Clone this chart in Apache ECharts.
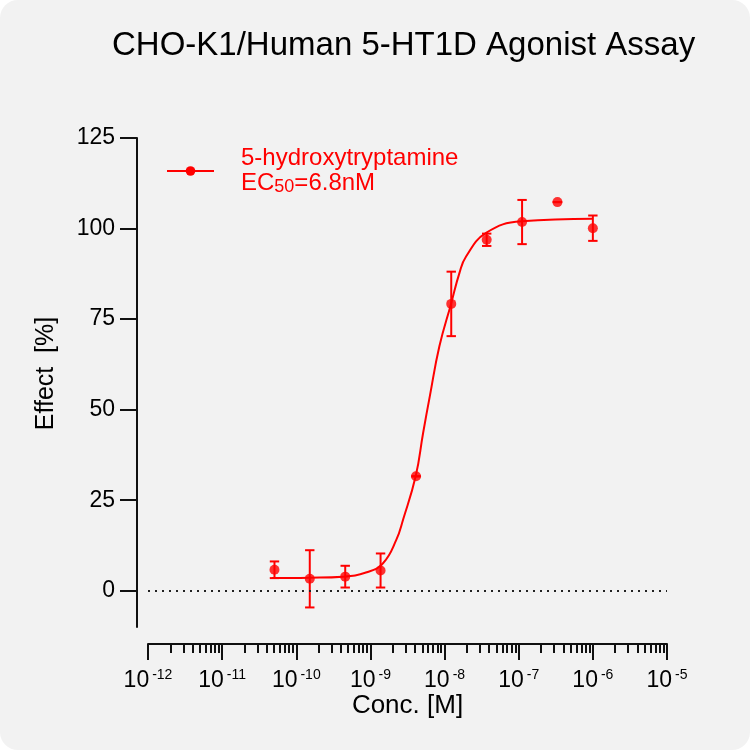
<!DOCTYPE html>
<html>
<head>
<meta charset="utf-8">
<script src="https://cdn.jsdelivr.net/npm/echarts@6/dist/echarts.min.js"></script>
<style>
    html, body { margin: 0; padding: 0; background: #ffffff; }
    #chart { width: 750px; height: 750px; background: #f2f2f2; border-radius: 18px; overflow: hidden; }
</style>
</head>
<body>
<div id="chart"></div>
<script>
    'use strict'

    /*-----data-----*/
    // concentrations in M (3-fold dilution series)
    var concM = [5.08e-11, 1.52e-10, 4.57e-10, 1.37e-9, 4.12e-9, 1.23e-8, 3.70e-8, 1.11e-7, 3.33e-7, 1.00e-6];
    var effectMean = [5.8, 3.3, 3.9, 5.6, 31.6, 79.2, 96.9, 101.8, 107.3, 100.1];
    var effectErr = [2.3, 7.9, 3.0, 4.7, 0, 8.9, 1.7, 6.1, 0, 3.5];

    // fitted curve (log10 conc, effect %)
    var curveLogX = [-10.33, -9.83, -9.37, -9.05, -8.83, -8.65, -8.56, -8.39, -8.29, -8.20, -8.07, -7.91, -7.80, -7.71, -7.44, -6.96, -6.00];
    var curveY = [3.5, 3.6, 3.9, 5.1, 7.6, 14.1, 19.6, 31.6, 43.5, 53.6, 67.5, 79.4, 87.7, 92.3, 98.8, 102.0, 102.7];

    var xDecades = [-12, -11, -10, -9, -8, -7, -6, -5];
    var yTicks = [0, 25, 50, 75, 100, 125];

    var seriesName = '5-hydroxytryptamine';
    var ec50Text = '6.8nM';

    /*-----build-----*/
    var pointData = concM.map(function (c, i) {
        return [Math.log10(c), effectMean[i]];
    });
    var errData = concM.map(function (c, i) {
        return [Math.log10(c), effectMean[i] - effectErr[i], effectMean[i] + effectErr[i]];
    });
    var curveData = curveLogX.map(function (x, i) {
        return [x, curveY[i]];
    });
    var minorTicks = [];
    for (var d = 0; d < xDecades.length - 1; d++) {
        for (var k = 2; k <= 9; k++) {
            minorTicks.push(xDecades[d] + Math.log10(k));
        }
    }

    var red = '#ff0000';
    var axisColor = '#111111';
    var fontFamily = '"Liberation Sans", Arial, sans-serif';

    var chart = echarts.init(document.getElementById('chart'));
    var option = {
        backgroundColor: 'transparent',
        textStyle: { fontFamily: fontFamily },
        title: {
            text: 'CHO-K1/Human 5-HT1D Agonist Assay',
            left: 107,
            top: 24,
            textStyle: { fontSize: 33, fontWeight: 'normal', color: '#000', fontFamily: fontFamily }
        },
        legend: {
            data: [seriesName],
            left: 166,
            top: 146,
            padding: 0,
            itemWidth: 47,
            itemHeight: 12,
            formatter: function () {
                return seriesName + '\nEC{sub|50}=' + ec50Text;
            },
            textStyle: {
                color: red,
                fontSize: 24,
                lineHeight: 25,
                padding: [0, 0, 0, 22],
                fontFamily: fontFamily,
                rich: {
                    sub: { fontSize: 18, color: red, verticalAlign: 'bottom', lineHeight: 12 }
                }
            }
        },
        grid: {
            left: 148,
            right: 83,
            top: 138,
            bottom: 123,
            containLabel: false
        },
        xAxis: [{
            type: 'value',
            min: -12,
            max: -5,
            interval: 1,
            offset: 17,
            name: 'Conc. [M]',
            nameLocation: 'middle',
            nameGap: 49,
            nameMoveOverlap: false,
            nameTextStyle: { fontSize: 26, color: '#000', fontFamily: fontFamily },
            axisLine: { onZero: false, lineStyle: { color: axisColor, width: 2 } },
            axisTick: { length: 16, lineStyle: { color: axisColor, width: 2 } },
            splitLine: { show: false },
            axisLabel: {
                margin: 24,
                color: '#000',
                formatter: function (v) {
                    return '{b|10}{s|' + v + '}';
                },
                rich: {
                    b: { fontSize: 23, color: '#000', lineHeight: 26, fontFamily: fontFamily },
                    s: { fontSize: 14, color: '#000', verticalAlign: 'top', lineHeight: 14, padding: [0, 0, 0, 3], fontFamily: fontFamily }
                }
            }
        }, {
            type: 'value',
            min: -12,
            max: -5,
            position: 'bottom',
            offset: 17,
            axisLine: { show: false, onZero: false },
            axisLabel: { show: false },
            splitLine: { show: false },
            axisTick: {
                show: true,
                length: 9,
                customValues: minorTicks,
                lineStyle: { color: axisColor, width: 2 }
            }
        }],
        yAxis: {
            type: 'value',
            min: -10,
            max: 125,
            offset: 11,
            name: 'Effect  [%]',
            nameLocation: 'middle',
            nameGap: 78,
            nameMoveOverlap: false,
            nameTextStyle: { fontSize: 25, color: '#000', padding: [0, 0, 0, 18], fontFamily: fontFamily },
            axisLine: { show: true, onZero: false, lineStyle: { color: axisColor, width: 2 } },
            axisTick: { show: true, length: 17, customValues: yTicks, lineStyle: { color: axisColor, width: 2 } },
            splitLine: { show: false },
            axisLabel: {
                margin: 22,
                fontSize: 23,
                color: '#000',
                customValues: yTicks
            }
        },
        series: [{
            name: seriesName,
            type: 'line',
            data: curveData,
            smooth: 0.45,
            symbol: 'circle',
            showSymbol: false,
            silent: true,
            color: red,
            lineStyle: { color: red, width: 2 },
            z: 3
        }, {
            name: 'points',
            type: 'scatter',
            data: pointData,
            symbol: 'circle',
            symbolSize: 10,
            itemStyle: { color: red },
            z: 4,
            markLine: {
                silent: true,
                symbol: 'none',
                label: { show: false },
                lineStyle: { color: '#222', width: 2, type: [2, 5] },
                data: [{ yAxis: 0 }]
            }
        }, {
            name: 'error',
            type: 'custom',
            data: errData,
            z: 3,
            renderItem: function (params, api) {
                var x = api.value(0);
                var lo = api.coord([x, api.value(1)]);
                var hi = api.coord([x, api.value(2)]);
                var cap = 4.7;
                return {
                    type: 'group',
                    children: [{
                        type: 'line',
                        shape: { x1: lo[0], y1: lo[1], x2: hi[0], y2: hi[1] },
                        style: { stroke: red, lineWidth: 2 }
                    }, {
                        type: 'line',
                        shape: { x1: lo[0] - cap, y1: lo[1], x2: lo[0] + cap, y2: lo[1] },
                        style: { stroke: red, lineWidth: 2 }
                    }, {
                        type: 'line',
                        shape: { x1: hi[0] - cap, y1: hi[1], x2: hi[0] + cap, y2: hi[1] },
                        style: { stroke: red, lineWidth: 2 }
                    }]
                };
            }
        }]
    };
    chart.setOption(option);
    window.addEventListener('resize', function () {
        chart.resize();
    });
</script>
</body>
</html>
